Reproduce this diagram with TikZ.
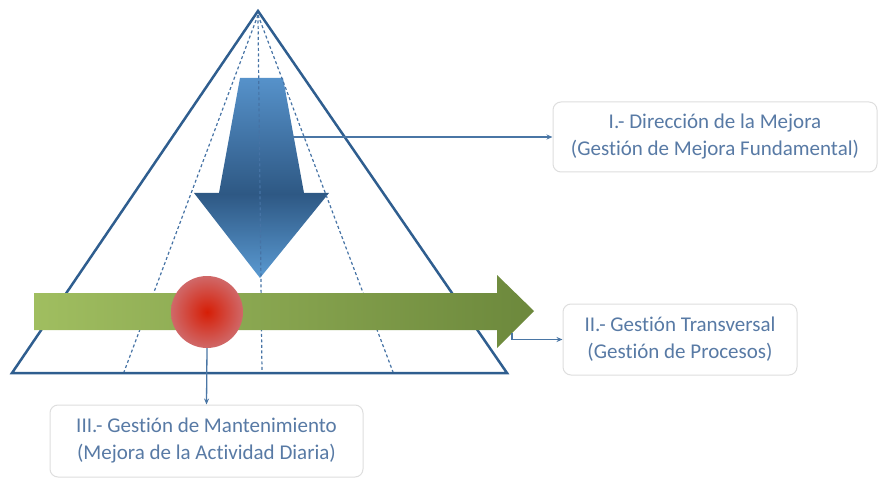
\documentclass[tikz,border=0pt]{standalone}
\usepackage{fontspec}
\setmainfont[Ligatures=NoCommon]{Carlito}
\usetikzlibrary{arrows.meta}
\definecolor{tri}{RGB}{47,94,143}
\definecolor{dashc}{RGB}{70,115,165}
\definecolor{blueL}{RGB}{86,146,202}
\definecolor{blueD}{RGB}{46,88,132}
\definecolor{blueT}{RGB}{90,154,210}
\definecolor{greenL}{RGB}{160,190,96}
\definecolor{greenR}{RGB}{108,136,60}
\definecolor{redC}{RGB}{214,30,6}
\definecolor{redO}{RGB}{208,104,104}
\definecolor{conn}{RGB}{74,118,165}
\definecolor{txt}{RGB}{88,122,165}
\definecolor{boxb}{RGB}{222,222,222}
\pgfdeclareverticalshading{bluearrow}{100bp}{color(0bp)=(blueT); color(25bp)=(blueT); color(46bp)=(blueD); color(75bp)=(blueL); color(100bp)=(blueL)}
\tikzset{
  labelbox/.style={draw=boxb, line width=1pt, fill=white, rounded corners=8pt,
    inner sep=0pt, align=center, text=txt, font=\fontsize{21}{27}\selectfont},
  connline/.style={draw=conn, line width=1.3pt, -{Stealth[length=6pt,width=5pt]}},
  dashline/.style={draw=dashc, line width=1.2pt, dash pattern=on 3pt off 2.5pt},
}
\begin{document}
\begin{tikzpicture}[x=1pt,y=-1pt]
\useasboundingbox (0,0) rectangle (881,481);
% triangle
\coordinate (apex) at (258,11);
\coordinate (bl) at (12,373);
\coordinate (br) at (507,373);
\draw[tri, line width=2.5pt, line join=miter] (apex) -- (bl) -- (br) -- cycle;
% blue arrow
\path[shading=bluearrow] (240,78) -- (283,78) -- (304,193) -- (329,193) -- (260,278) -- (194,193) -- (219,193) -- cycle;
% dashed guide lines
\coordinate (dtop) at (258,15);
\draw[dashline] (dtop) -- (124,372);
\draw[dashline] (dtop) -- (262,372);
\draw[dashline] (dtop) -- (393,372);
% green arrow
\path[left color=greenL, right color=greenR] (34,293) -- (497,293) -- (497,275) -- (534,311) -- (497,348) -- (497,330) -- (34,330) -- cycle;
% red circle
\node[circle, minimum size=72pt, inner sep=0pt, inner color=redC, outer color=redO] (dot) at (207,312) {};
% boxes
\node[labelbox, minimum width=324pt, minimum height=70pt] (b1) at (715,137) {I.- Dirección de la Mejora\\(Gestión de Mejora Fundamental)};
\node[labelbox, minimum width=234pt, minimum height=71pt] (b2) at (680,339.5) {II.- Gestión Transversal\\(Gestión de Procesos)};
\node[labelbox, minimum width=313pt, minimum height=72pt] (b3) at (206.5,441) {III.- Gestión de Mantenimiento\\(Mejora de la Actividad Diaria)};
% connectors
\coordinate (c1) at (293,137);
\draw[connline] (c1) -- (b1.west |- c1);
\coordinate (c2) at (512,333);
\draw[connline] (c2) |- (b2.west);
\draw[connline] (dot.south) -- (b3.north);
\end{tikzpicture}
\end{document}
